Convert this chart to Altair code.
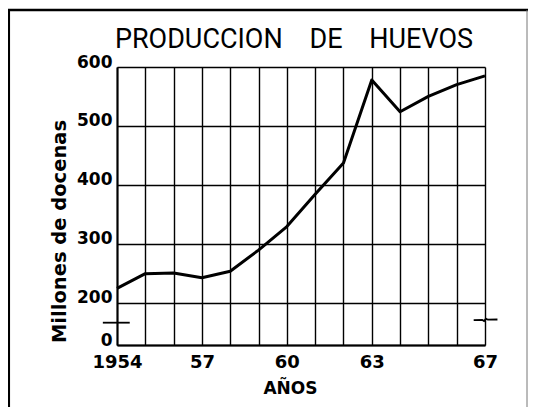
import altair as alt
import pandas as pd

# ---- data ----
years = list(range(1954, 1968))
production = [224, 249, 250, 242, 253, 289, 329, 384, 437, 578, 524, 550, 570, 585]
x_label_years = [1954, 1957, 1960, 1963, 1967]
y_tick_values = [0, 200, 300, 400, 500, 600]

title_text = "PRODUCCION\u00a0\u00a0\u00a0\u00a0DE\u00a0\u00a0\u00a0\u00a0HUEVOS"
y_title = "Millones de docenas"
x_title = "AÑOS"

# axis-break marks (in data units)
break_x = [1953.5, 1954.45, 1966.6, 1966.9, 1966.97, 1967.03, 1967.1, 1967.44]
break_y = [105, 105, 117, 118, 113, 124, 119, 120]
break_group = ["L", "L", "R", "R", "R", "R", "R", "R"]

# ---- layout ----
W, H = 368, 278
LEFT, TOP, RIGHT, BOTTOM = 109, 59, 43, 62
FONT = "DejaVu Sans"

df = pd.DataFrame({"year": years, "value": production})
df_break = pd.DataFrame({"x": break_x, "y": break_y, "g": break_group})
df_title = pd.DataFrame({"t": [title_text]})

x_scale = alt.Scale(domain=[years[0], years[-1]], nice=False, zero=False)
# broken axis: 0-200 squeezed into the bottom strip
y_scale = alt.Scale(domain=[0, 200, 600], range=[H, 235.5, 0], nice=False, zero=False)

label_list = ",".join(str(v) for v in x_label_years[1:])
x_label_expr = (
    f"datum.value == {x_label_years[0]} ? '{x_label_years[0]}' : "
    f"(indexof([{label_list}], datum.value) >= 0 ? slice(toString(datum.value), 2) : '')"
)

x_axis = alt.Axis(
    values=years, format="d", labelExpr=x_label_expr, grid=True, ticks=False,
    labelFont=FONT, labelFontWeight="bold", labelFontSize=18, labelPadding=8,
    labelColor="black", labelOverlap=False, labelFlush=False, labelAlign="center",
    title=x_title, titleFont=FONT, titleFontWeight="bold", titleFontSize=17,
    titleX=173, titleY=48, titleBaseline="alphabetic", titleAlign="center",
    titleColor="black",
)
y_axis = alt.Axis(
    values=y_tick_values, grid=True, ticks=False,
    labelFont=FONT, labelFontWeight="bold", labelFontSize=17, labelPadding=5,
    labelBaseline="alphabetic", labelColor="black", labelOverlap=False,
    labelFlush=False,
    title=y_title, titleFont=FONT, titleFontWeight="bold", titleFontSize=19.5,
    titleX=-52, titleY=164, titleAngle=270, titleBaseline="alphabetic",
    titleAlign="center", titleColor="black",
)

line = alt.Chart(df).mark_line(color="black", strokeWidth=3, strokeJoin="round").encode(
    x=alt.X("year:Q", scale=x_scale, axis=x_axis),
    y=alt.Y("value:Q", scale=y_scale, axis=y_axis),
)

breaks = alt.Chart(df_break).mark_line(color="black", strokeWidth=1.8).encode(
    x=alt.X("x:Q", scale=x_scale, axis=x_axis),
    y=alt.Y("y:Q", scale=y_scale, axis=y_axis),
    detail="g:N",
)

border_left = alt.Chart(df_title).mark_rule(color="black", strokeWidth=2.5).encode(
    x=alt.value(-LEFT + 0.8), y=alt.value(-TOP + 2), y2=alt.value(H + BOTTOM)
)
border_top = alt.Chart(df_title).mark_rule(color="black", strokeWidth=2.5).encode(
    x=alt.value(-LEFT), x2=alt.value(W + RIGHT), y=alt.value(-TOP + 2)
)
border_right = alt.Chart(df_title).mark_rule(color="#777777", strokeWidth=1).encode(
    x=alt.value(W + RIGHT - 1), y=alt.value(-TOP + 2), y2=alt.value(H + BOTTOM)
)

title = alt.Chart(df_title).mark_text(
    font="Liberation Sans Narrow, Roboto", fontSize=27, fontWeight="normal",
    color="black", align="center", baseline="alphabetic",
).encode(text="t:N", x=alt.value(177), y=alt.value(-19.5))

chart = alt.layer(line, breaks, border_left, border_top, border_right, title).properties(
    width=W, height=H,
    padding={"left": LEFT, "top": TOP, "right": RIGHT, "bottom": BOTTOM},
    autosize=alt.AutoSizeParams(type="none"),
).configure_axis(
    domainColor="black", domainWidth=2, gridColor="black", gridWidth=1.4,
    gridOpacity=1,
).configure_view(strokeWidth=0)

chart.save("out.html", embed_options={"renderer": "svg", "actions": False})
